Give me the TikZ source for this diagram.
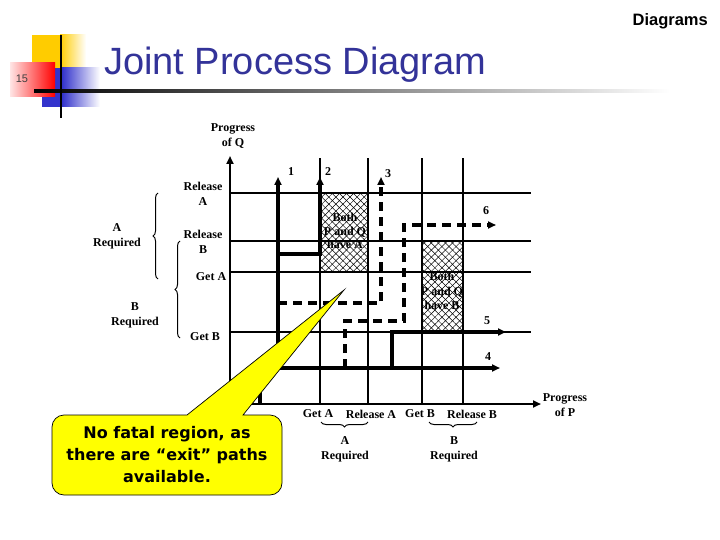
\documentclass[tikz,border=0pt]{standalone}
\usepackage{fontspec}
\setmainfont{Liberation Serif}
\newfontfamily\arialf{Liberation Sans}
\newfontfamily\comicf{DejaVu Sans}
\usetikzlibrary{arrows.meta,patterns.meta,decorations.pathreplacing}
\definecolor{titleblue}{HTML}{333399}
\definecolor{sqyellow}{HTML}{FFCC00}
\definecolor{sqblue}{HTML}{3333CC}
\definecolor{callyellow}{HTML}{FFFF00}
\tikzset{
  gridline/.style={line width=2pt},
  pathline/.style={line width=3.2pt},
  dpath/.style={line width=3.2pt, dash pattern=on 9pt off 6pt},
  arr/.style={-{Triangle[length=8pt,width=7pt]}},
  lbl/.style={font=\fontsize{12}{15}\selectfont\bfseries, align=center, inner sep=0pt},
  hatch/.style={pattern={Lines[angle=45,distance=5pt,line width=0.5pt]}},
  hatchb/.style={pattern={Lines[angle=-45,distance=5pt,line width=0.5pt]}},
  mybrace/.style={decorate, decoration={brace, amplitude=5pt}, line width=1pt},
}
\begin{document}
\begin{tikzpicture}[x=1pt,y=-1pt]
\useasboundingbox[fill=white] (0,0) rectangle (720,540);
% header decoration
\fill[sqyellow] (32,35) rectangle (60,68);
\shade[left color=sqyellow, right color=white] (60,35) rectangle (86,68);
\fill[sqblue] (42,68) rectangle (62,107);
\shade[left color=sqblue, right color=white] (62,68) rectangle (100,107);
\shade[left color=red!10, right color=red] (10,63) rectangle (55,97);
\shade[left color=black, right color=white] (34,89.5) rectangle (670,93);
\draw[line width=2.6pt] (61,35) -- (61,118);
\node[font=\arialf\fontsize{11}{11}\selectfont, text=black!75, anchor=base, inner sep=0pt] (num) at (22,83) {15};
\node[font=\arialf\fontsize{38}{38}\selectfont, text=titleblue, anchor=base west, inner sep=0pt] (title) at (104,75) {Joint Process Diagram};
\node[font=\arialf\bfseries\fontsize{16.5}{16.5}\selectfont, anchor=base east, inner sep=0pt] (hdr) at (708,26) {Diagrams};
% hatched regions
\path[hatch] (320,193) rectangle (368,272);
\path[hatchb] (320,193) rectangle (368,272);
\path[hatch] (422,241) rectangle (463,332);
\path[hatchb] (422,241) rectangle (463,332);
% grid
\foreach \yy in {193,241,272,332} \draw[gridline] (230,\yy) -- (531,\yy);
\foreach \xx in {320,368,422,463} \draw[gridline] (\xx,404) -- (\xx,158);
% axes
\coordinate (o) at (230,404);
\coordinate (qtop) at (230,156);
\coordinate (pend) at (541,404);
\draw[gridline,arr] (o) -- (qtop);
\draw[gridline,arr] (o) -- (pend);
% paths
\draw[pathline,arr] (260,404) -- (260,368) -- (500,368);
\draw[pathline,arr] (278,368) -- (278,177);
\draw[pathline,arr] (278,254) -- (320,254) -- (320,177);
\draw[dpath,arr] (278,303) -- (381,303) -- (381,177);
\draw[dpath,arr] (345,368) -- (345,321) -- (404,321) -- (404,225) -- (496,225);
\draw[pathline,arr] (392,368) -- (392,332) -- (506,332);
% path numbers
\node[lbl] (n1) at (291,172) {1};
\node[lbl] (n2) at (328,172) {2};
\node[lbl] (n3) at (388,174) {3};
\node[lbl] (n6) at (486,211) {6};
\node[lbl] (n5) at (487,321) {5};
\node[lbl] (n4) at (488,357) {4};
% region texts
\node[lbl, font=\fontsize{12}{13.5}\selectfont\bfseries] (ra) at (345,231) {Both\\P and Q\\have A};
\node[lbl, font=\fontsize{12}{14.5}\selectfont\bfseries] (rb) at (442,291) {Both\\P and Q\\have B};
% axis labels
\node[lbl] (pq) at (233,136) {Progress\\of Q};
\node[lbl] (pp) at (565,405) {Progress\\of P};
% Q labels
\node[lbl] (qra) at (203,194) {Release\\A};
\node[lbl] (qrb) at (203,242) {Release\\B};
\node[lbl] (qga) at (211,277) {Get A};
\node[lbl] (qgb) at (205,337) {Get B};
\node[lbl] (qareq) at (117,236) {A\\Required};
\node[lbl] (qbreq) at (135,315) {B\\Required};
\draw[mybrace] (158,279) -- (158,193);
\draw[mybrace] (180,338) -- (180,241);
% P labels
\node[lbl] (pga) at (318,414) {Get A};
\node[lbl] (pra) at (371,414) {Release A};
\node[lbl] (pgb) at (420,414) {Get B};
\node[lbl] (prb) at (472,414) {Release B};
\draw[mybrace] (368,422) -- (321,422);
\draw[mybrace] (477,422) -- (429,422);
\node[lbl] (pareq) at (345,449) {A\\Required};
\node[lbl] (pbreq) at (454,449) {B\\Required};
% callout
\coordinate (tip) at (344,290);
\draw[fill=callyellow, line width=0.7pt] (187,415) -- (tip) -- (243,415) -- (262,415) [rounded corners=12pt] -- (282,415) -- (282,495) -- (52,495) -- (52,415) -- (170,415) [sharp corners] -- cycle;
\node[font=\comicf\bfseries\fontsize{16}{22}\selectfont, align=center, inner sep=0pt] (ct) at (167,455) {No fatal region, as\\there are “exit” paths\\available.};
\end{tikzpicture}
\end{document}
